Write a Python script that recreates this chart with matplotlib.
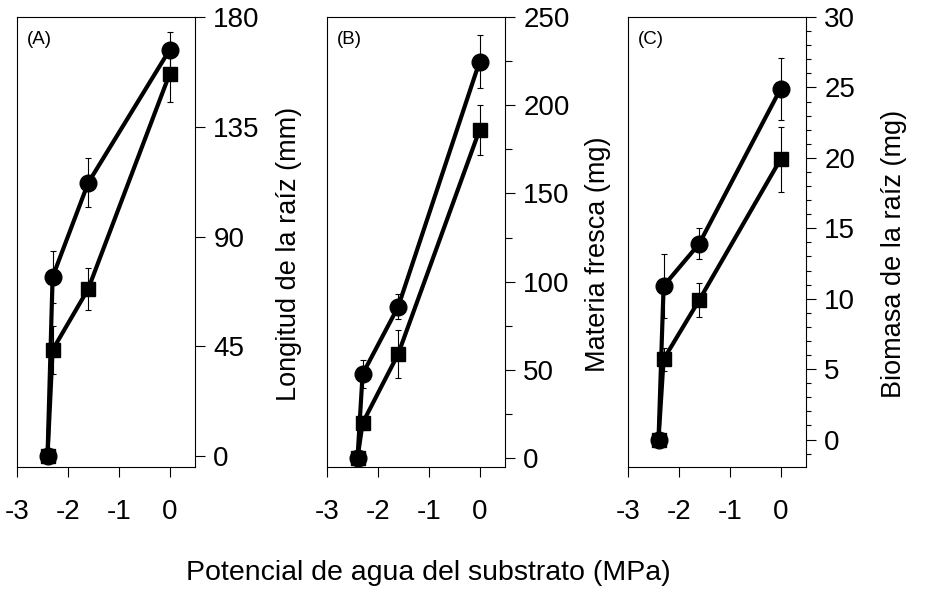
#!/usr/bin/env python
"""Root growth vs substrate water potential, three panels with right-hand y axes."""
import matplotlib

matplotlib.use("Agg")
import matplotlib.pyplot as plt
from matplotlib.ticker import MultipleLocator

plt.rcParams["font.family"] = ["Liberation Sans Narrow", "Liberation Sans", "DejaVu Sans"]

# substrate water potential (MPa)
potencial = [-2.4, -2.3, -1.6, 0.0]

# (A) root length (mm)
longitud_circ = [0, 73.4, 112, 166.5]
longitud_circ_err = [0, 10.5, 10, 7.5]
longitud_cuad = [0, 43.5, 68.5, 156.6]
longitud_cuad_err = [0, 10, 8.5, 11.5]

# (B) fresh matter (mg)
fresca_circ = [0, 47.6, 85.8, 224.7]
fresca_circ_err = [0, 8, 7, 15]
fresca_cuad = [0, 19.8, 59, 186]
fresca_cuad_err = [0, 4, 13.5, 14]

# (C) root biomass (mg)
biomasa_circ = [0, 10.9, 13.9, 24.9]
biomasa_circ_err = [0, 2.3, 1.1, 2.2]
biomasa_cuad = [0, 5.7, 9.9, 19.9]
biomasa_cuad_err = [0, 0.8, 1.2, 2.3]

x_ticks = [-3, -2, -1, 0]

W, H = 933, 590


def draw_panel(fig, left_px, tag, ylabel, circ, circ_err, cuad, cuad_err,
               ylim, major, minor, minor_len, labelpad):
    ax = fig.add_axes([left_px / W, (H - 467) / H, 178 / W, 450 / H])
    for y, err, marker, ms in ((cuad, cuad_err, "s", 10.5), (circ, circ_err, "o", 12)):
        ax.errorbar(potencial, y, yerr=err, fmt="none", ecolor="black",
                    elinewidth=0.8, capsize=2.5, capthick=0.8, zorder=2)
        ax.plot(potencial, y, color="black", lw=3, marker=marker, ms=ms,
                markerfacecolor="black", markeredgecolor="black", zorder=3)

    ax.set_xlim(-3, 0.5)
    ax.set_ylim(*ylim)
    ax.set_xticks(x_ticks)
    ax.set_xticklabels([str(t) for t in x_ticks])
    ax.yaxis.set_major_locator(MultipleLocator(major))
    if minor:
        ax.yaxis.set_minor_locator(MultipleLocator(minor))
    ax.yaxis.tick_right()
    ax.yaxis.set_label_position("right")
    ax.tick_params(axis="x", direction="out", length=7.2, width=0.8,
                   labelsize=20, pad=15.5, top=False)
    ax.tick_params(axis="y", which="major", direction="out", length=7.2, width=0.8,
                   labelsize=20, pad=6, left=False, right=True)
    ax.tick_params(axis="y", which="minor", direction="out", length=minor_len,
                   width=0.8, left=False, right=True)
    for sp in ax.spines.values():
        sp.set_linewidth(0.8)
    ax.set_ylabel(ylabel, fontsize=19.5, labelpad=labelpad)
    ax.yaxis.label.set_y(0.473)
    ax.text(0.055, 0.95, tag, transform=ax.transAxes, fontsize=13.5,
            ha="left", va="center")
    return ax


def main():
    fig = plt.figure(figsize=(W / 100, H / 100), dpi=100)
    draw_panel(fig, 17, "(A)", "Longitud de la raíz (mm)",
               longitud_circ, longitud_circ_err, longitud_cuad, longitud_cuad_err,
               (-4.5, 180), 45, None, 0, 12)
    draw_panel(fig, 327, "(B)", "Materia fresca (mg)",
               fresca_circ, fresca_circ_err, fresca_cuad, fresca_cuad_err,
               (-5.1, 250), 50, 25, 5, 11)
    draw_panel(fig, 628, "(C)", "Biomasa de la raíz (mg)",
               biomasa_circ, biomasa_circ_err, biomasa_cuad, biomasa_cuad_err,
               (-1.95, 30), 5, 1, 3.6, 18.5)
    fig.text(428 / W, 1 - 573 / H, "Potencial de agua del substrato (MPa)",
             fontsize=20.5, ha="center", va="center")
    fig.savefig("out.png", dpi=100)
    plt.close(fig)


if __name__ == "__main__":
    main()
